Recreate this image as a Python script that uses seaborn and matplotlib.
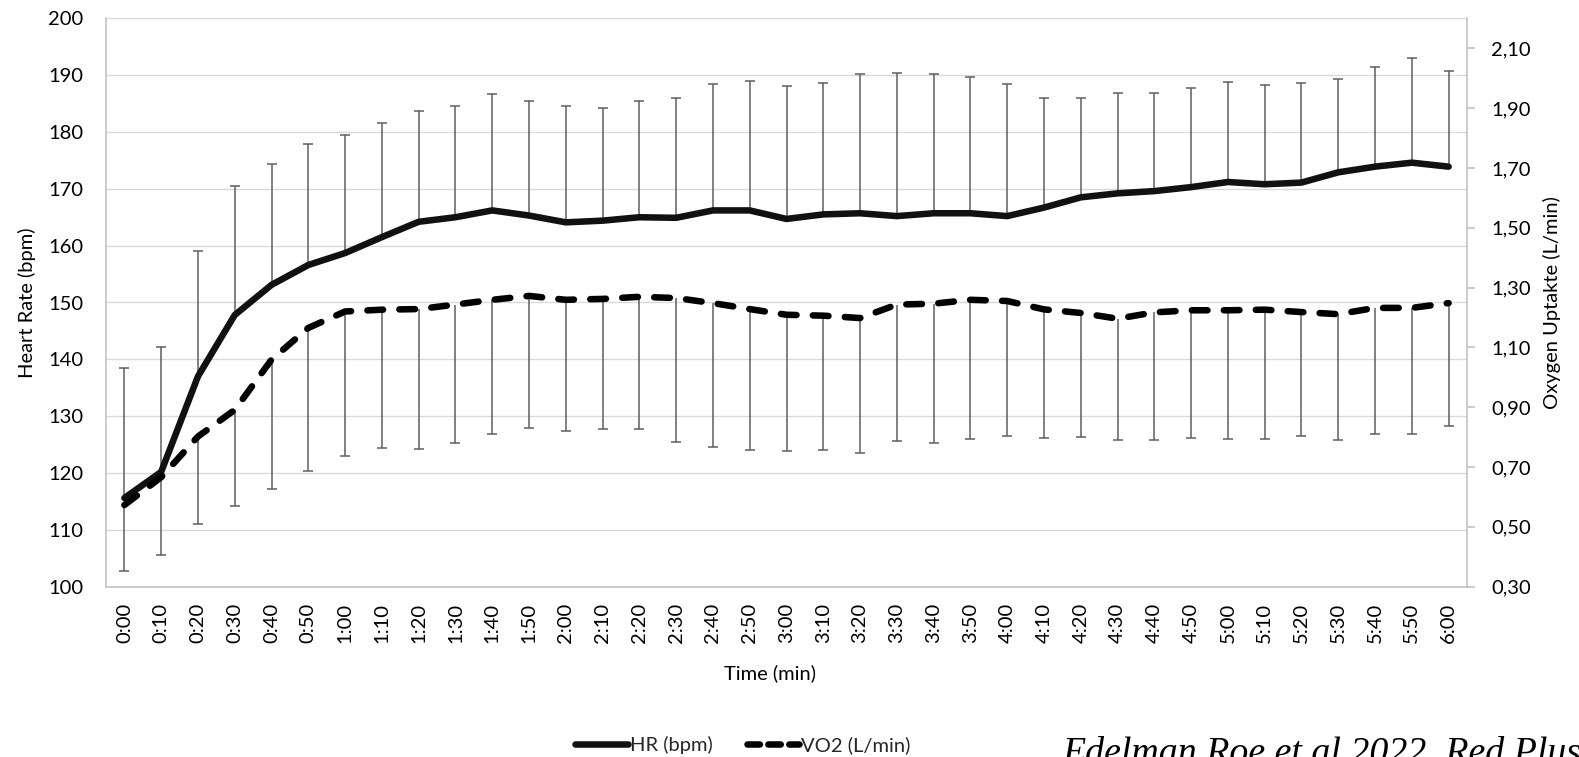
import numpy as np
import pandas as pd
import matplotlib
matplotlib.use("Agg")
import matplotlib.pyplot as plt
from matplotlib.lines import Line2D
from matplotlib.ticker import FixedLocator, FuncFormatter
import seaborn as sns

# Time points (10 s intervals)
time_labels = ["0:00", "0:10", "0:20", "0:30", "0:40", "0:50",
               "1:00", "1:10", "1:20", "1:30", "1:40", "1:50",
               "2:00", "2:10", "2:20", "2:30", "2:40", "2:50",
               "3:00", "3:10", "3:20", "3:30", "3:40", "3:50",
               "4:00", "4:10", "4:20", "4:30", "4:40", "4:50",
               "5:00", "5:10", "5:20", "5:30", "5:40", "5:50", "6:00"]

# Heart rate mean and SD (bpm)
hr_mean = [115.6, 120.2, 137.0, 147.8, 153.1, 156.6, 158.7, 161.5, 164.2, 165.0,
           166.2, 165.3, 164.1, 164.4, 165.0, 164.9, 166.2, 166.2, 164.7, 165.5,
           165.7, 165.2, 165.7, 165.7, 165.2, 166.7, 168.5, 169.2, 169.6, 170.3,
           171.2, 170.8, 171.1, 172.9, 173.9, 174.6, 173.9]
hr_sd = [22.9, 21.9, 22.0, 22.7, 21.3, 21.3, 20.8, 20.0, 19.5, 19.5,
         20.5, 20.2, 20.5, 19.9, 20.5, 21.1, 22.3, 22.7, 23.4, 23.2,
         24.5, 25.1, 24.5, 24.0, 23.3, 19.2, 17.4, 17.6, 17.2, 17.4,
         17.6, 17.5, 17.5, 16.4, 17.5, 18.5, 16.9]

# Oxygen uptake mean and SD (L/min)
vo2_mean = [0.573, 0.666, 0.802, 0.891, 1.059, 1.165, 1.220, 1.226, 1.228, 1.243,
            1.259, 1.272, 1.259, 1.262, 1.269, 1.265, 1.248, 1.228, 1.209, 1.206,
            1.198, 1.243, 1.246, 1.259, 1.255, 1.227, 1.215, 1.196, 1.217, 1.224,
            1.224, 1.226, 1.218, 1.211, 1.232, 1.232, 1.248]
vo2_sd = [0.219, 0.261, 0.293, 0.322, 0.433, 0.479, 0.482, 0.461, 0.467, 0.461,
          0.447, 0.443, 0.439, 0.435, 0.442, 0.480, 0.480, 0.472, 0.454, 0.450,
          0.451, 0.456, 0.466, 0.464, 0.452, 0.429, 0.415, 0.407, 0.427, 0.427,
          0.429, 0.432, 0.413, 0.420, 0.422, 0.422, 0.410]

hr_ticks = [100, 110, 120, 130, 140, 150, 160, 170, 180, 190, 200]
vo2_ticks = [0.30, 0.50, 0.70, 0.90, 1.10, 1.30, 1.50, 1.70, 1.90, 2.10]

df = pd.DataFrame({
    "idx": np.arange(len(time_labels)),
    "time": time_labels,
    "hr": hr_mean, "hr_sd": hr_sd,
    "vo2": vo2_mean, "vo2_sd": vo2_sd,
})

sns.set_theme(style="white")
plt.rcParams["font.family"] = ["Lato", "DejaVu Sans"]

FS = 14.5
GRID = "#d9d9d9"
AXIS = "#bfbfbf"
ERR = "#5f5f5f"
DASH = (0, (2.4, 2.5))

fig = plt.figure(figsize=(15.79, 7.57), dpi=100)
ax = fig.add_axes([106 / 1579, 1 - 586.7 / 757, 1361 / 1579, 568.4 / 757])
ax2 = ax.twinx()

# Error bars: HR upward, VO2 downward
hr_top = df["hr"] + df["hr_sd"]
ax.vlines(df["idx"], df["hr"], hr_top, color=ERR, lw=1.1, zorder=2)
ax.plot(df["idx"], hr_top, ls="none", marker="_", ms=6.5, mew=1.1, color=ERR, zorder=2)

vo2_bot = df["vo2"] - df["vo2_sd"]
ax2.vlines(df["idx"], vo2_bot, df["vo2"], color=ERR, lw=1.1, zorder=2)
ax2.plot(df["idx"], vo2_bot, ls="none", marker="_", ms=6.5, mew=1.1, color=ERR, zorder=2)

# Mean lines
sns.lineplot(data=df, x="idx", y="hr", ax=ax, color="#111111", lw=4.7,
             solid_capstyle="round", solid_joinstyle="round", zorder=3)
sns.lineplot(data=df, x="idx", y="vo2", ax=ax2, color="#000000", lw=4.7,
             linestyle=DASH, dash_capstyle="round",
             dash_joinstyle="round", zorder=3)

# Left axis
ax.set_xlim(-0.5, len(time_labels) - 0.5)
ax.set_ylim(100, 200)
ax.yaxis.set_major_locator(FixedLocator(hr_ticks))
ax.grid(axis="y", color=GRID, lw=0.95)
ax.grid(axis="x", visible=False)
ax.set_axisbelow(True)
ax.set_xticks(df["idx"])
ax.set_xticklabels(time_labels, rotation=90, fontsize=FS, color="#000000")
ax.tick_params(axis="x", length=0, pad=11.5)
ax.tick_params(axis="y", length=0, pad=16.5, labelsize=FS, labelcolor="#000000")
for side in ("left", "bottom"):
    ax.spines[side].set_color(AXIS)
    ax.spines[side].set_linewidth(1.1)
for side in ("top", "right"):
    ax.spines[side].set_visible(False)

ax.set_xlabel("Time (min)", fontsize=FS, color="#000000")
ax.xaxis.set_label_coords((770 - 106) / 1361, (586.7 - 673) / 568.4)
ax.xaxis.label.set_va("center")
ax.set_ylabel("Heart Rate (bpm)", fontsize=FS, color="#000000")
ax.yaxis.set_label_coords((27 - 106) / 1361, 0.5)
ax.yaxis.label.set_va("center")

# Right axis
ax2.set_ylim(0.30, 2.20)
ax2.yaxis.set_major_locator(FixedLocator(vo2_ticks))
ax2.yaxis.set_major_formatter(FuncFormatter(lambda v, p: f"{v:.2f}".replace(".", ",")))
ax2.grid(False)
ax2.tick_params(axis="y", direction="out", length=5.5, width=1.1, color=AXIS,
                pad=12, labelsize=FS, labelcolor="#000000", right=True)
for side in ("left", "top", "bottom"):
    ax2.spines[side].set_visible(False)
ax2.spines["right"].set_visible(True)
ax2.spines["right"].set_color(AXIS)
ax2.spines["right"].set_linewidth(1.1)
ax2.set_ylabel("Oxygen Uptakte (L/min)", fontsize=FS, color="#000000", rotation=90)
ax2.yaxis.set_label_coords((1552 - 106) / 1361, 0.5)
ax2.yaxis.label.set_va("center")

# Legend below the chart
handles = [
    Line2D([], [], color="#111111", lw=4.7, solid_capstyle="round"),
    Line2D([], [], color="#000000", lw=4.7, linestyle=(0, (1.9, 1.3)),
           dash_capstyle="round"),
]
fig.legend(handles, ["HR (bpm)", "VO2 (L/min)"], loc="center",
           bbox_to_anchor=(743 / 1579, 1 - 745 / 757), ncol=2, frameon=False,
           fontsize=14.5, handlelength=2.6, handletextpad=0.1, columnspacing=1.7)

# Source credit
fig.text(1062 / 1579, 1 - 762 / 757, "Edelman Roe et al 2022, Red Plus",
         family="Liberation Serif", style="italic", fontsize=27.3,
         color="#000000", va="baseline", ha="left")

fig.savefig("out.png", dpi=100)
